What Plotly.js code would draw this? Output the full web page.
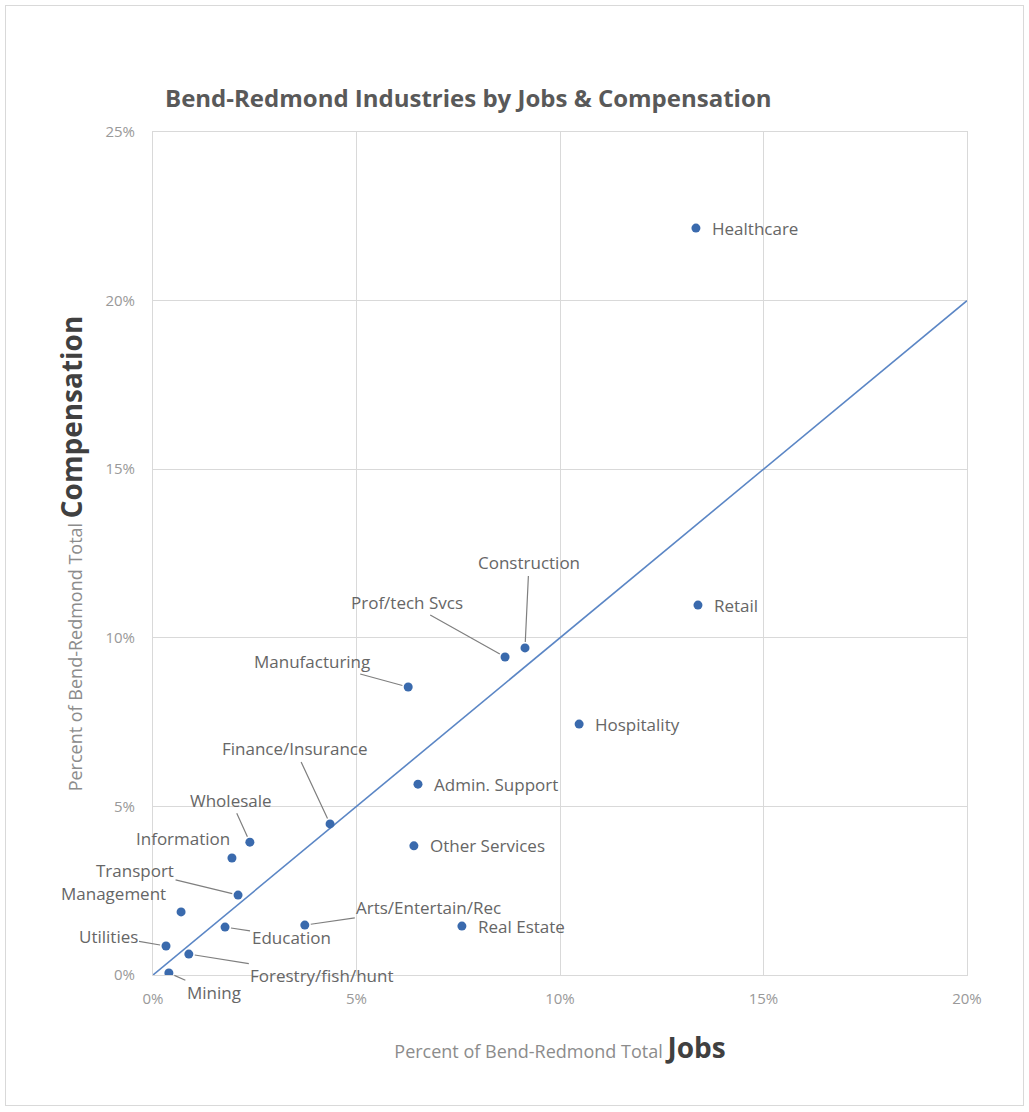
<!DOCTYPE html>
<html>
<head>
<meta charset="utf-8">
<script src="https://cdn.plot.ly/plotly-3.0.1.min.js"></script>
<style>
  html, body { margin: 0; padding: 0; background: #fff; }
  #chart { width: 1029px; height: 1112px; }
  #frame { position: absolute; left: 5px; top: 5px; width: 1017px; height: 1099px; border: 1px solid #d9d9d9; pointer-events: none; }
</style>
</head>
<body>
<div id="chart"></div>
<div id="frame"></div>
<script>
// Data (percent of Bend-Redmond totals)
const industries = ["Healthcare", "Retail", "Hospitality", "Construction", "Prof/tech Svcs",
  "Manufacturing", "Admin. Support", "Other Services", "Real Estate", "Finance/Insurance",
  "Arts/Entertain/Rec", "Wholesale", "Information", "Transport", "Management",
  "Education", "Utilities", "Forestry/fish/hunt", "Mining"];
const jobsPct = [13.34, 13.39, 10.47, 9.14, 8.65, 6.27, 6.51, 6.41, 7.59, 4.35,
  3.73, 2.38, 1.94, 2.09, 0.69, 1.77, 0.32, 0.88, 0.39];
const compPct = [22.15, 10.97, 7.44, 9.70, 9.43, 8.54, 5.66, 3.83, 1.45, 4.48,
  1.48, 3.94, 3.47, 2.37, 1.87, 1.42, 0.86, 0.62, 0.06];
const parityLine = [0, 20];
const xTickVals = [0, 5, 10, 15, 20];
const yTickVals = [0, 5, 10, 15, 20, 25];

// Label placement (pixel offsets from point to label centre); 'right' = plain label to the right
const labelPlacement = {
  "Healthcare": "right", "Retail": "right", "Hospitality": "right",
  "Admin. Support": "right", "Other Services": "right", "Real Estate": "right",
  "Construction": {ax: 4, ay: -85, line: true},
  "Prof/tech Svcs": {ax: -98, ay: -55, line: true},
  "Manufacturing": {ax: -96, ay: -26, line: true},
  "Finance/Insurance": {ax: -35, ay: -75, line: true},
  "Wholesale": {ax: -19, ay: -42, line: true},
  "Transport": {ax: -103, ay: -25, line: true},
  "Utilities": {ax: -58, ay: -10, line: true},
  "Education": {ax: 66, ay: 10, line: true},
  "Forestry/fish/hunt": {ax: 133, ay: 21, line: true},
  "Mining": {ax: 45, ay: 20, line: true},
  "Arts/Entertain/Rec": {ax: 124, ay: -18, line: true},
  "Information": {ax: -49, ay: -19, line: false},
  "Management": {ax: -68, ay: -18, line: false}
};

const FONT = "'Open Sans', 'Noto Sans', sans-serif";
const labelFont = {family: FONT, size: 17, color: '#666666'};

const annotations = industries.map((name, i) => {
  const p = labelPlacement[name];
  if (p === "right") {
    return {x: jobsPct[i], y: compPct[i], xref: 'x', yref: 'y', text: name, showarrow: false,
      xanchor: 'left', yanchor: 'middle', xshift: 14, font: labelFont};
  }
  return {x: jobsPct[i], y: compPct[i], xref: 'x', yref: 'y', text: name, showarrow: true,
    ax: p.ax, ay: p.ay, arrowhead: 0, arrowwidth: 1.2, standoff: 6,
    arrowcolor: p.line ? '#7f7f7f' : 'rgba(0,0,0,0)', font: labelFont};
});

const traces = [
  {x: parityLine, y: parityLine, type: 'scatter', mode: 'lines',
   line: {color: '#5b86c5', width: 1.6}, hoverinfo: 'skip', showlegend: false},
  {x: jobsPct, y: compPct, text: industries, type: 'scatter', mode: 'markers',
   marker: {color: '#3a6aad', size: 9}, showlegend: false}
];

const layout = {
  width: 1029, height: 1112,
  margin: {l: 153, r: 62, t: 132, b: 137},
  paper_bgcolor: '#ffffff', plot_bgcolor: '#ffffff',
  font: {family: FONT, color: '#999999'},
  title: {text: '<b>Bend-Redmond Industries by Jobs &amp; Compensation</b>',
    font: {family: FONT, size: 24, color: '#595959'},
    x: 165/1029, xanchor: 'left', xref: 'container', y: 1 - 99/1112, yanchor: 'middle'},
  xaxis: {range: [0, 20], tickvals: xTickVals, ticktext: xTickVals.map(v => v + '%'),
    showgrid: true, gridcolor: '#d9d9d9', gridwidth: 1, zeroline: false,
    showline: true, linecolor: '#d9d9d9', mirror: true, ticks: '',
    tickfont: {family: FONT, size: 15, color: '#999999'}, ticklabelstandoff: 10,
    title: {text: 'Percent of Bend-Redmond Total <span style="font-size:28px;color:#404040;font-weight:bold">Jobs</span>',
      font: {family: FONT, size: 18, color: '#8c8c8c'}, standoff: 38},
    fixedrange: true},
  yaxis: {range: [0, 25], tickvals: yTickVals, ticktext: yTickVals.map(v => v + '%'),
    showgrid: true, gridcolor: '#d9d9d9', gridwidth: 1, zeroline: false,
    showline: true, linecolor: '#d9d9d9', mirror: true, ticks: '',
    tickfont: {family: FONT, size: 15, color: '#999999'}, ticklabelstandoff: 14,
    title: {text: 'Percent of Bend-Redmond Total <span style="font-size:28px;color:#404040;font-weight:bold">Compensation</span>',
      font: {family: FONT, size: 18, color: '#8c8c8c'}, standoff: 18},
    fixedrange: true},
  annotations: annotations,
  hovermode: 'closest'
};

Plotly.newPlot('chart', traces, layout, {displayModeBar: false});
</script>
</body>
</html>
